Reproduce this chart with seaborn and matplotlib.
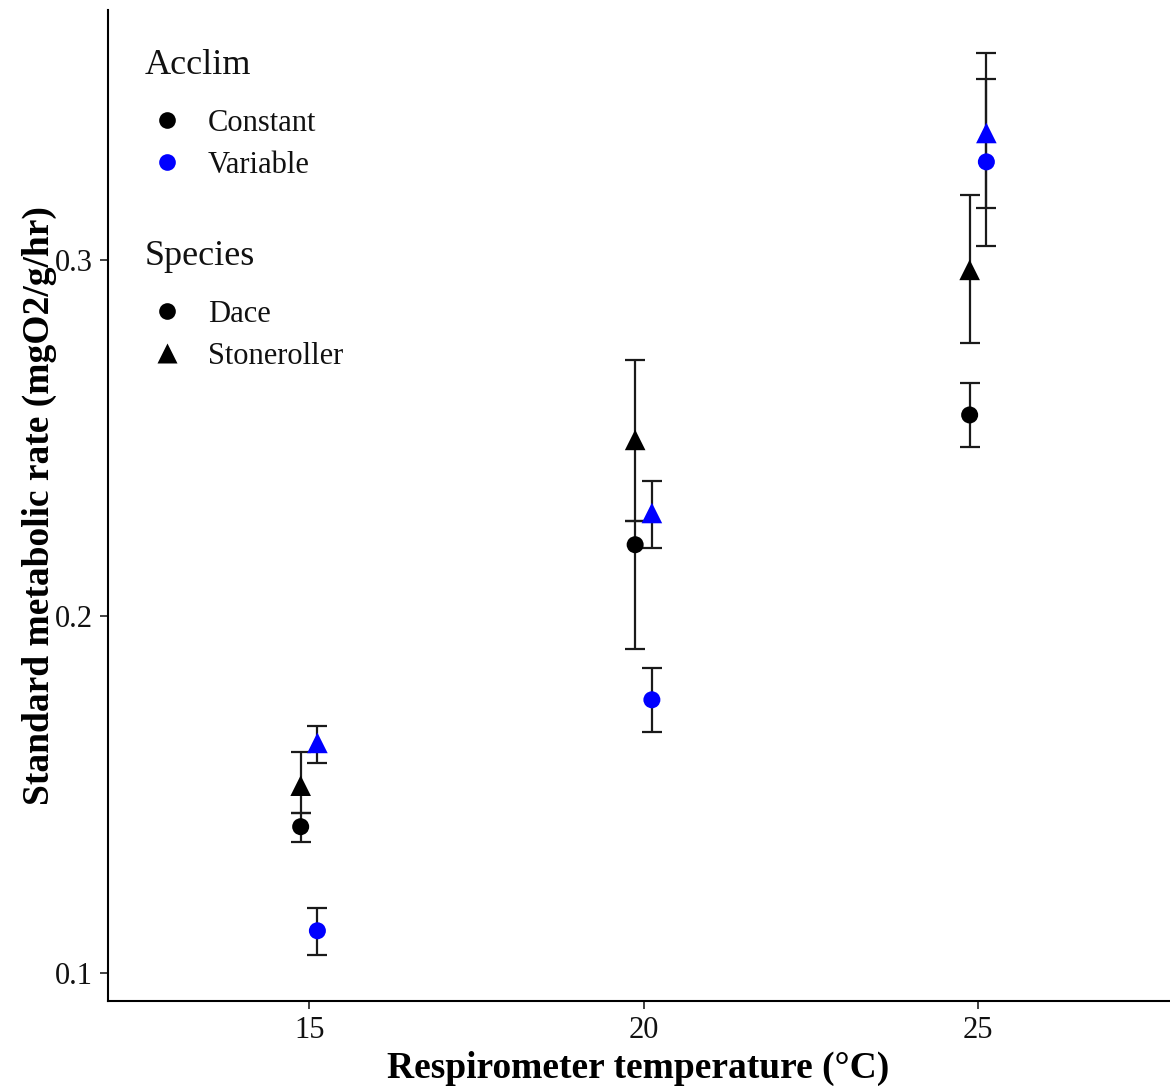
import matplotlib
matplotlib.use("Agg")
import matplotlib.pyplot as plt
from matplotlib.lines import Line2D
import seaborn as sns
import pandas as pd

# ---------------- data ----------------
temps = [15, 15, 15, 15, 20, 20, 20, 20, 25, 25, 25, 25]
species = ["Dace", "Dace", "Stoneroller", "Stoneroller"] * 3
acclim = ["Constant", "Variable", "Constant", "Variable"] * 3
smr = [0.1410, 0.1118, 0.1525, 0.1645,
       0.2201, 0.1766, 0.2495, 0.2290,
       0.2565, 0.3275, 0.2972, 0.3356]
smr_lo = [0.1367, 0.1050, 0.1449, 0.1589,
          0.1909, 0.1676, 0.2268, 0.2192,
          0.2475, 0.3039, 0.2767, 0.3146]
smr_hi = [0.1449, 0.1182, 0.1620, 0.1693,
          0.2268, 0.1856, 0.2720, 0.2380,
          0.2655, 0.3508, 0.3182, 0.3581]
acclim_levels = ["Constant", "Variable"]
species_levels = ["Dace", "Stoneroller"]
x_ticks = [15, 20, 25]
y_ticks = [0.1, 0.2, 0.3]
y_ticklabels = ["0.1", "0.2", "0.3"]

# ---------------- styling ----------------
palette = {"Constant": "#000000", "Variable": "#0000FF"}
markers = {"Dace": "o", "Stoneroller": "^"}
sizes = {"Dace": 150, "Stoneroller": 220}
dodge = {"Constant": -0.13, "Variable": 0.12}

df = pd.DataFrame({"temp": temps, "species": species, "acclim": acclim,
                   "smr": smr, "lo": smr_lo, "hi": smr_hi})
df["xpos"] = df["temp"] + df["acclim"].map(dodge)

sns.set_theme(style="ticks")
plt.rcParams["font.family"] = ["Liberation Serif", "DejaVu Serif"]

W, H = 1170, 1086
fig = plt.figure(figsize=(W / 100, H / 100), dpi=100)
ax = fig.add_axes([108 / W, 1 - 1001 / H, (1169 - 108) / W, (1001 - 10) / H])

for _, r in df.iterrows():
    ax.errorbar(r["xpos"], r["smr"], yerr=[[r["smr"] - r["lo"]], [r["hi"] - r["smr"]]],
                fmt="none", ecolor="#1a1a1a", elinewidth=1.6, capsize=7,
                capthick=1.6, zorder=2)

sns.scatterplot(data=df, x="xpos", y="smr", hue="acclim", style="species",
                size="species", sizes=sizes, palette=palette, markers=markers,
                hue_order=acclim_levels, style_order=species_levels,
                edgecolor="none", linewidth=0, legend=False, ax=ax, zorder=3)

ax.set_xlim(11.99, 27.85)
ax.set_ylim(0.0921, 0.3701)
ax.set_xticks(x_ticks)
ax.set_xticklabels([str(t) for t in x_ticks])
ax.set_yticks(y_ticks)
ax.set_yticklabels(y_ticklabels)

for s in ["top", "right"]:
    ax.spines[s].set_visible(False)
for s in ["left", "bottom"]:
    ax.spines[s].set_linewidth(1.5)
    ax.spines[s].set_color("#000000")
ax.tick_params(axis="both", length=5.5, width=1.3, color="#333333",
               labelsize=22, labelcolor="#111111", pad=5.5)

ax.set_xlabel("Respirometer temperature (°C)", fontsize=27, fontweight="bold",
              color="#000000", labelpad=4)
ax.set_ylabel("Standard metabolic rate (mgO2/g/hr)", fontsize=27,
              fontweight="bold", color="#000000", labelpad=-1.5)

# ---------------- legends ----------------
h1 = [Line2D([], [], linestyle="none", marker="o", markersize=12,
             markerfacecolor=palette[a], markeredgecolor="none") for a in acclim_levels]
h2 = [Line2D([], [], linestyle="none", marker=markers[s], markersize=12 if s == "Dace" else 14,
             markerfacecolor="#000000", markeredgecolor="none") for s in species_levels]

fig.text(145 / W, 1 - 66 / H, "Acclim", fontsize=26, va="center", ha="left", color="#111111")
fig.text(145 / W, 1 - 256 / H, "Species", fontsize=26, va="center", ha="left", color="#111111")

common = dict(loc="upper left", bbox_transform=fig.transFigure, frameon=False,
              fontsize=22, handlelength=1.4, handletextpad=0.62,
              labelspacing=0.42, borderpad=0, borderaxespad=0,
              labelcolor="#111111")
leg1 = ax.legend(handles=h1, labels=acclim_levels,
                 bbox_to_anchor=(146 / W, 1 - 109 / H), **common)
ax.add_artist(leg1)
leg2 = ax.legend(handles=h2, labels=species_levels,
                 bbox_to_anchor=(146 / W, 1 - 300 / H), **common)

fig.savefig("out.png", dpi=100)
